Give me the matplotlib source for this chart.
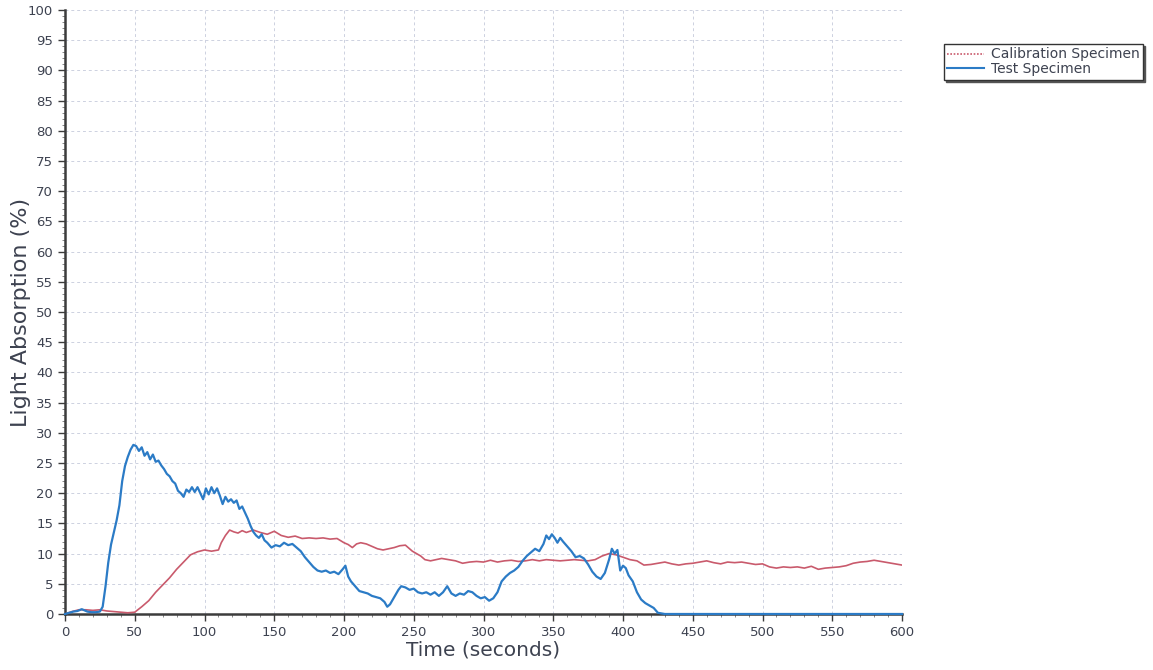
import matplotlib
matplotlib.use('Agg')
import matplotlib.pyplot as plt
from matplotlib.lines import Line2D
from matplotlib.ticker import MultipleLocator

# Test specimen (blue)
test_t = [0, 3, 6, 9, 12, 14, 16, 19, 22, 25,
          27, 29, 31, 33, 35, 37, 39, 41, 43, 45,
          47, 49, 51, 53, 55, 57, 59, 61, 63, 65,
          67, 69, 71, 73, 75, 77, 79, 81, 83, 85,
          87, 89, 91, 93, 95, 97, 99, 101, 103, 105,
          107, 109, 111, 113, 115, 117, 119, 121, 123, 125,
          127, 129, 131, 133, 135, 137, 139, 141, 143, 145,
          148, 151, 154, 157, 160, 163, 166, 169, 172, 175,
          178, 181, 184, 187, 190, 193, 196, 199, 201, 203,
          205, 208, 211, 214, 217, 220, 223, 226, 229, 231,
          233, 235, 237, 239, 241, 244, 247, 250, 253, 256,
          259, 262, 265, 268, 271, 274, 277, 280, 283, 286,
          289, 292, 295, 298, 301, 304, 307, 310, 313, 316,
          319, 322, 325, 328, 331, 334, 337, 340, 343, 345,
          347, 349, 351, 353, 355, 357, 360, 363, 366, 369,
          372, 375, 378, 381, 384, 387, 390, 392, 394, 396,
          398, 400, 402, 404, 407, 410, 413, 416, 419, 422,
          425, 430, 600]
test_y = [0.0, 0.2, 0.4, 0.5, 0.8, 0.6, 0.4, 0.3, 0.3, 0.4,
          1.2, 4.5, 8.5, 11.5, 13.5, 15.5, 18.0, 22.0, 24.5, 26.0,
          27.2, 28.0, 27.8, 27.0, 27.6, 26.2, 26.8, 25.6, 26.4, 25.2,
          25.4, 24.6, 24.0, 23.2, 22.8, 22.0, 21.6, 20.4, 20.0, 19.4,
          20.6, 20.2, 21.0, 20.2, 21.0, 20.0, 19.0, 20.8, 19.8, 21.0,
          20.0, 20.8, 19.6, 18.2, 19.4, 18.6, 19.0, 18.4, 18.8, 17.4,
          17.8, 16.8, 15.8, 14.6, 13.6, 13.0, 12.6, 13.2, 12.2, 11.8,
          11.0, 11.4, 11.2, 11.8, 11.4, 11.6, 11.0, 10.4, 9.4, 8.6,
          7.8, 7.2, 7.0, 7.2, 6.8, 7.0, 6.6, 7.4, 8.0, 6.2,
          5.4, 4.6, 3.8, 3.6, 3.4, 3.0, 2.8, 2.6, 2.0, 1.2,
          1.6, 2.4, 3.2, 4.0, 4.6, 4.4, 4.0, 4.2, 3.6, 3.4,
          3.6, 3.2, 3.6, 3.0, 3.6, 4.6, 3.4, 3.0, 3.4, 3.2,
          3.8, 3.6, 3.0, 2.6, 2.8, 2.2, 2.6, 3.6, 5.4, 6.2,
          6.8, 7.2, 7.8, 8.8, 9.6, 10.2, 10.8, 10.4, 11.6, 13.0,
          12.4, 13.2, 12.6, 11.8, 12.6, 12.0, 11.2, 10.4, 9.4, 9.6,
          9.2, 8.2, 7.0, 6.2, 5.8, 6.8, 9.0, 10.8, 10.0, 10.6,
          7.2, 8.0, 7.6, 6.4, 5.4, 3.6, 2.4, 1.8, 1.4, 1.0,
          0.2, 0.0, 0.0]

# Calibration specimen (red)
cal_t = [0, 5, 10, 15, 20, 25, 30, 35, 40, 45,
         50, 55, 60, 65, 70, 75, 80, 85, 90, 95,
         100, 105, 110, 112, 115, 118, 121, 124, 127, 130,
         135, 140, 145, 150, 155, 160, 165, 170, 175, 180,
         185, 190, 195, 200, 203, 206, 209, 212, 216, 220,
         224, 228, 232, 236, 240, 244, 247, 249, 252, 255,
         258, 262, 266, 270, 275, 280, 285, 290, 295, 300,
         305, 310, 315, 320, 325, 330, 335, 340, 345, 350,
         355, 360, 365, 370, 375, 380, 385, 390, 395, 400,
         405, 410, 415, 420, 425, 430, 435, 440, 445, 450,
         455, 460, 465, 470, 475, 480, 485, 490, 495, 500,
         505, 510, 515, 520, 525, 530, 535, 540, 545, 550,
         555, 560, 565, 570, 575, 580, 585, 590, 595, 600]
cal_y = [0.0, 0.4, 0.7, 0.7, 0.6, 0.7, 0.5, 0.4, 0.3, 0.2,
         0.3, 1.2, 2.2, 3.6, 4.8, 6.0, 7.4, 8.6, 9.8, 10.3,
         10.6, 10.4, 10.6, 11.8, 13.0, 13.9, 13.6, 13.4, 13.8, 13.5,
         13.9, 13.5, 13.2, 13.7, 13.0, 12.7, 12.9, 12.5, 12.6, 12.5,
         12.6, 12.4, 12.5, 11.8, 11.5, 11.0, 11.6, 11.8, 11.6, 11.2,
         10.8, 10.6, 10.8, 11.0, 11.3, 11.4, 10.8, 10.4, 10.0, 9.6,
         9.0, 8.8, 9.0, 9.2, 9.0, 8.8, 8.4, 8.6, 8.7, 8.6,
         8.9, 8.6, 8.8, 8.9, 8.7, 8.8, 9.0, 8.8, 9.0, 8.9,
         8.8, 8.9, 9.0, 8.9, 8.8, 9.0, 9.6, 10.0, 9.8, 9.4,
         9.0, 8.8, 8.1, 8.2, 8.4, 8.6, 8.3, 8.1, 8.3, 8.4,
         8.6, 8.8, 8.5, 8.3, 8.6, 8.5, 8.6, 8.4, 8.2, 8.3,
         7.8, 7.6, 7.8, 7.7, 7.8, 7.6, 7.9, 7.4, 7.6, 7.7,
         7.8, 8.0, 8.4, 8.6, 8.7, 8.9, 8.7, 8.5, 8.3, 8.1]

red = '#c95a6c'
blue = '#2b7bc6'
txt = '#3d4250'

fig = plt.figure(figsize=(11.53, 6.70), dpi=100)
ax = fig.add_axes([65 / 1153, 56 / 670, 837 / 1153, 604 / 670])

ax.plot(cal_t, cal_y, color=red, lw=1.2, zorder=3)
ax.plot(test_t, test_y, color=blue, lw=1.6, zorder=4, clip_on=False)

ax.set_xlim(0, 600)
ax.set_ylim(0, 100)
ax.xaxis.set_major_locator(MultipleLocator(50))
ax.xaxis.set_minor_locator(MultipleLocator(10))
ax.yaxis.set_major_locator(MultipleLocator(5))
ax.yaxis.set_minor_locator(MultipleLocator(1))

ax.grid(True, which='major', color='#cdd1e0', linestyle=(0, (3, 3)), lw=0.7)
ax.spines['top'].set_visible(False)
ax.spines['right'].set_visible(False)
for s in ['left', 'bottom']:
    ax.spines[s].set_color('#3c3c3c')
    ax.spines[s].set_linewidth(1.8)

ax.tick_params(which='major', length=5, width=1, colors='#3c3c3c', labelsize=9.5, labelcolor=txt)
ax.tick_params(which='minor', length=2.5, width=0.7, colors='#888888')

ax.set_xlabel('Time (seconds)', fontsize=14.5, color=txt, labelpad=1)
ax.set_ylabel('Light Absorption (%)', fontsize=16, color=txt, labelpad=-2)

handles = [Line2D([], [], color=red, lw=1.2, linestyle=(0, (1, 1))),
           Line2D([], [], color=blue, lw=1.5)]
leg = fig.legend(handles, ['Calibration Specimen', 'Test Specimen'],
                 loc='upper left', bbox_to_anchor=(944 / 1153, 1 - 44 / 670),
                 fontsize=10, frameon=True, fancybox=False,
                 shadow={'ox': 1.5, 'oy': -1.5, 'color': '#555555', 'alpha': 1},
                 borderpad=0.25, labelspacing=0.05, handlelength=2.6, handletextpad=0.5,
                 borderaxespad=0)
leg.get_frame().set_edgecolor('#333333')
leg.get_frame().set_linewidth(1.0)
for t in leg.get_texts():
    t.set_color(txt)

fig.savefig('out.png', dpi=100)
